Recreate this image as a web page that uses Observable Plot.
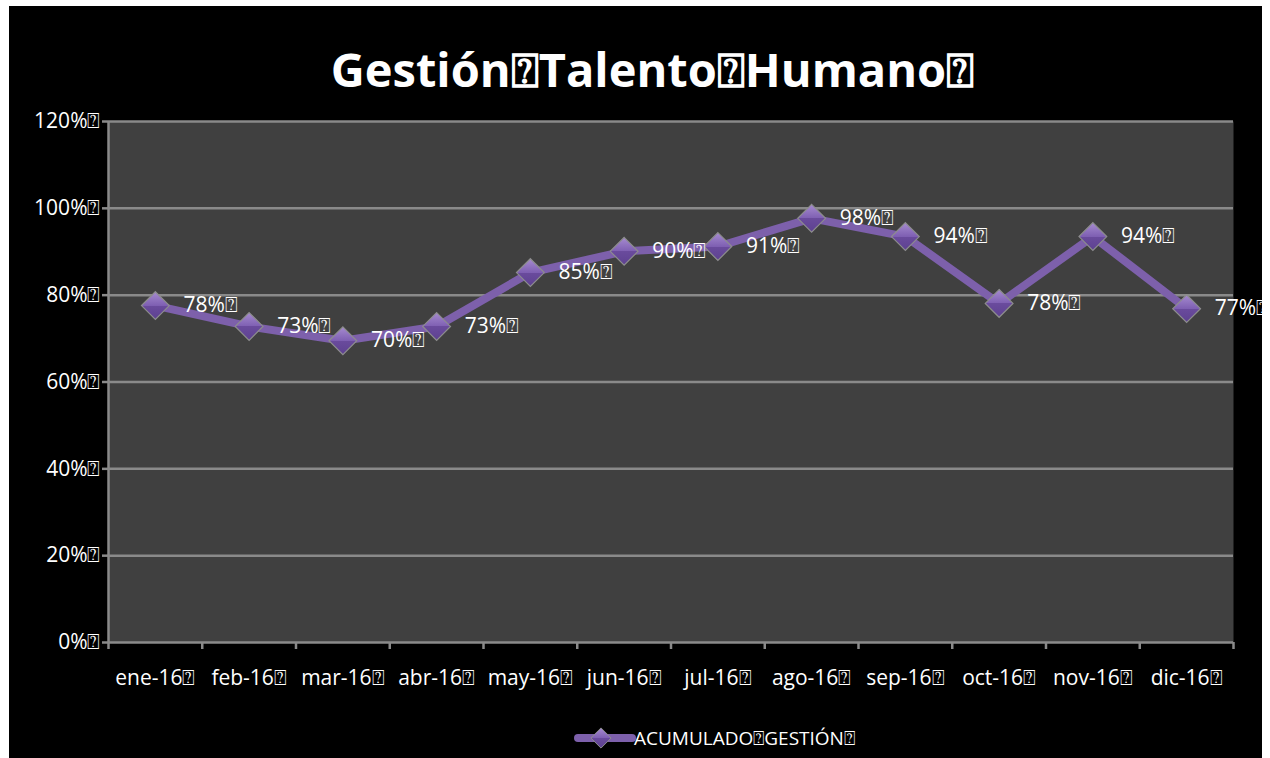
<!DOCTYPE html>
<html>
<head>
<meta charset="utf-8">
<script src="https://cdn.jsdelivr.net/npm/d3@7"></script>
<script src="https://cdn.jsdelivr.net/npm/@observablehq/plot@0.6"></script>
<style>
  html, body { margin: 0; padding: 0; background: #ffffff; }
  #frame { position: absolute; left: 9px; top: 6px; width: 1253px; height: 752px; background: #000; overflow: hidden; font-family: "Open Sans", sans-serif; color: #fff; }
  #title { height: 90px; line-height: 1; text-align: center; font-weight: 700; font-size: 47px; box-sizing: border-box; padding-top: 40px; padding-left: 34px; }
  #chart svg { display: block; }
  #legend { position: absolute; left: 0; top: 704px; width: 1253px; height: 48px; }
</style>
</head>
<body>
<svg width="0" height="0" style="position:absolute">
  <defs>
    <linearGradient id="mk" x1="0" y1="0" x2="0" y2="1">
      <stop offset="0" stop-color="#a68bd0"/>
      <stop offset="0.5" stop-color="#7e5fb2"/>
      <stop offset="0.5" stop-color="#6a4b9d"/>
      <stop offset="1" stop-color="#5d4190"/>
    </linearGradient>
  </defs>
</svg>
<div id="frame">
  <div id="title"></div>
  <div id="chart"></div>
  <div id="legend"></div>
</div>
<script>
const titleText = "Gestión\u2370Talento\u2370Humano\u2370";
const months = ["ene-16", "feb-16", "mar-16", "abr-16", "may-16", "jun-16", "jul-16", "ago-16", "sep-16", "oct-16", "nov-16", "dic-16"];
const values = [0.776, 0.728, 0.695, 0.728, 0.852, 0.901, 0.912, 0.977, 0.935, 0.781, 0.935, 0.769];
const labels = ["78%", "73%", "70%", "73%", "85%", "90%", "91%", "98%", "94%", "78%", "94%", "77%"];
const yTicks = [0, 0.2, 0.4, 0.6, 0.8, 1.0, 1.2];
const seriesName = "ACUMULADO\u2370GESTIÓN\u2370";
const box = "\u2370";

document.getElementById("title").textContent = titleText;

const data = months.map((m, i) => ({i, m, v: values[i], label: labels[i] + box}));
const bounds = d3.range(-0.5, months.length, 1);

const fontFam = "Open Sans, sans-serif";
const grey = "#8a8a8a";
const plot = Plot.plot({
  width: 1253,
  height: 614,
  marginTop: 25,
  marginBottom: 68,
  marginLeft: 99,
  marginRight: 29,
  style: {background: "transparent", color: "#fff", fontFamily: fontFam, fontSize: "21px", overflow: "visible"},
  x: {type: "linear", domain: [-0.5, months.length - 0.5], axis: null},
  y: {domain: [0, 1.2], axis: null},
  marks: [
    Plot.frame({fill: "#404040", stroke: null}),
    Plot.ruleY(yTicks.slice(1), {stroke: grey, strokeWidth: 2.5}),
    Plot.ruleX([-0.5], {stroke: grey, strokeWidth: 2.5}),
    Plot.axisY({ticks: yTicks, label: null, tickFormat: d => d3.format(".0%")(d) + box, tickSize: 6, stroke: grey, strokeWidth: 2.5, tickPadding: 2, fill: "#fff", fontSize: 21}),
    Plot.ruleY([0], {stroke: grey, strokeWidth: 2.5}),
    Plot.axisX({ticks: bounds, label: null, tickFormat: () => "", tickSize: 7, stroke: grey, strokeWidth: 2.5}),
    Plot.axisX({ticks: d3.range(months.length), label: null, tickFormat: i => months[i] + box, tickSize: 0, tickPadding: 28, fill: "#fff", fontSize: 21}),
    Plot.line(data, {x: "i", y: "v", stroke: "#7d60ab", strokeWidth: 8, strokeLinejoin: "round"}),
    Plot.dot(data, {x: "i", y: "v", symbol: "diamond2", r: 12.5, fill: "url(#mk)", stroke: "#8d8d8d", strokeWidth: 1.2}),
    Plot.text(data, {x: "i", y: "v", text: "label", textAnchor: "start", dx: 28, fill: "#fff", fontSize: 21})
  ]
});
document.getElementById("chart").appendChild(plot);

const leg = d3.select("#legend").append("svg").attr("width", 1253).attr("height", 48);
const lx = 569, ly = 28;
leg.append("line").attr("x1", lx).attr("x2", lx + 54).attr("y1", ly).attr("y2", ly)
  .attr("stroke", "#7d60ab").attr("stroke-width", 8).attr("stroke-linecap", "round");
leg.append("path").attr("d", d3.symbol(d3.symbolDiamond2, 260)()).attr("transform", `translate(${lx + 23},${ly})`)
  .attr("fill", "url(#mk)").attr("stroke", "#8d8d8d");
leg.append("text").attr("x", lx + 56).attr("y", ly).attr("dy", "0.35em").attr("fill", "#fff")
  .attr("font-family", fontFam).attr("font-size", 19).text(seriesName);
</script>
</body>
</html>
